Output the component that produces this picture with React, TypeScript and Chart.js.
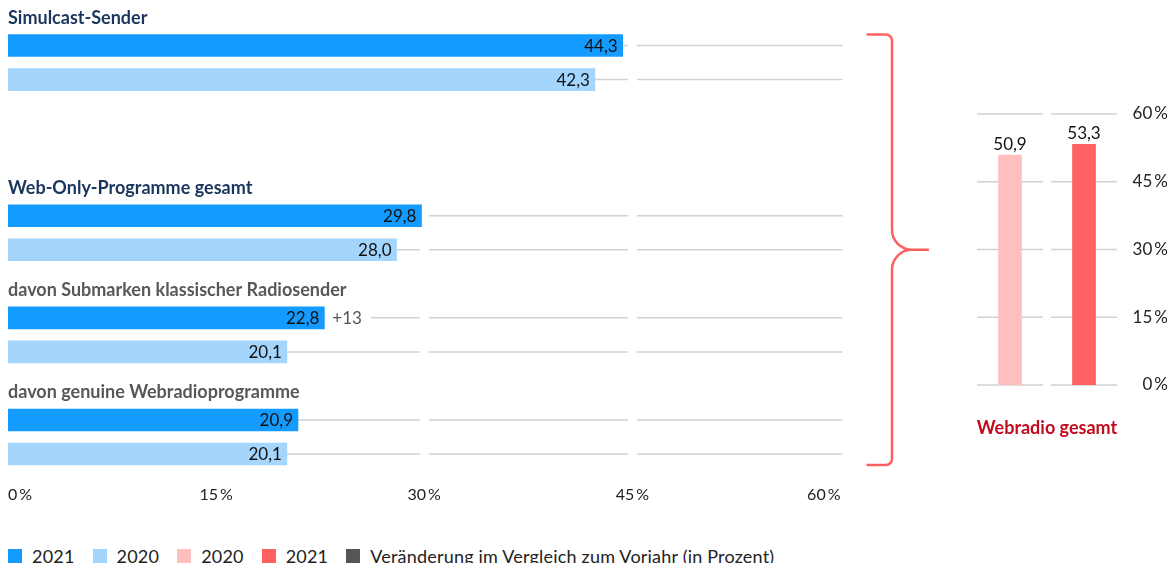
import React, { useEffect, useRef } from "react";
import { Chart, registerables } from "chart.js";
Chart.register(...registerables);

// ---- data ----
const groups = [
  "Simulcast-Sender",
  "Web-Only-Programme gesamt",
  "davon Submarken klassischer Radiosender",
  "davon genuine Webradioprogramme",
];
const values2021 = [44.3, 29.8, 22.8, 20.9];
const values2020 = [42.3, 28.0, 20.1, 20.1];
const changes2021: (number | null)[] = [null, null, 13, null];
const xTickValues = [0, 15, 30, 45, 60];

const webradioYears = ["2020", "2021"];
const webradioValues = [50.9, 53.3];
const webradioTitle = "Webradio gesamt";
const yTickValues = [0, 15, 30, 45, 60];

const legendLabels = ["2021", "2020", "2020", "2021", "Veränderung im Vergleich zum Vorjahr (in Prozent)"];

// ---- styles ----
const FONT = 'Lato, "Open Sans", sans-serif';
const C2021 = "#149bff";
const C2020 = "#a3d5fd";
const R2020 = "#ffbfbf";
const R2021 = "#ff6163";
const GRID = "#d2d2d2";
const legendColors = [C2021, C2020, R2020, R2021, "#555555"];
const titleColors = ["#1b365d", "#1b365d", "#58585a", "#58585a"];

type Slot = { kind: "title" | "bar" | "blank"; g: number; year?: "2021" | "2020" };
const slots: Slot[] = [];
groups.forEach((_, i) => {
  slots.push({ kind: "title", g: i });
  slots.push({ kind: "bar", g: i, year: "2021" });
  slots.push({ kind: "bar", g: i, year: "2020" });
  if (i === 0) {
    slots.push({ kind: "blank", g: i });
    slots.push({ kind: "blank", g: i });
  }
});
const slotValues = slots.map((s) =>
  s.kind === "bar" ? (s.year === "2021" ? values2021[s.g] : values2020[s.g]) : null
);
const slotColors = slots.map((s) => (s.year === "2021" ? C2021 : C2020));

const fmt = (v: number) => v.toFixed(1).replace(".", ",");

const leftPlugin = {
  id: "leftDecor",
  beforeDatasetsDraw(chart: any) {
    const { ctx, scales } = chart;
    const x = scales.x;
    const y = scales.y;
    ctx.save();
    ctx.strokeStyle = GRID;
    ctx.lineWidth = 1.5;
    slots.forEach((s, i) => {
      if (s.kind !== "bar") return;
      const py = y.getPixelForValue(i);
      for (let k = 0; k < xTickValues.length - 1; k++) {
        const a = x.getPixelForValue(xTickValues[k]) + (k === 0 ? 0 : 4.5);
        const last = k + 1 === xTickValues.length - 1;
        const b = x.getPixelForValue(xTickValues[k + 1]) + (last ? 2 : -4.5);
        ctx.beginPath();
        ctx.moveTo(a, py);
        ctx.lineTo(b, py);
        ctx.stroke();
      }
    });
    ctx.restore();
  },
  afterDatasetsDraw(chart: any) {
    const { ctx, scales, chartArea } = chart;
    const y = scales.y;
    const meta = chart.getDatasetMeta(0);
    ctx.save();
    // group titles
    slots.forEach((s, i) => {
      if (s.kind !== "title") return;
      ctx.font = `bold 18px ${FONT}`;
      ctx.fillStyle = titleColors[s.g];
      ctx.textAlign = "left";
      ctx.textBaseline = "middle";
      ctx.fillText(groups[s.g], chartArea.left, y.getPixelForValue(i) + 6.5);
    });
    // value labels
    slots.forEach((s, i) => {
      if (s.kind !== "bar") return;
      const el = meta.data[i];
      const v = slotValues[i] as number;
      ctx.font = `17px ${FONT}`;
      ctx.fillStyle = "#111";
      ctx.textAlign = "right";
      ctx.textBaseline = "middle";
      ctx.fillText(fmt(v), el.x - 5, el.y + 1);
      const ch = s.year === "2021" ? changes2021[s.g] : null;
      if (ch != null) {
        const txt = (ch > 0 ? "+" : "") + ch;
        ctx.font = `17px ${FONT}`;
        const w = ctx.measureText(txt).width;
        ctx.fillStyle = "#fff";
        ctx.fillRect(el.x + 1, el.y - 4, w + 16, 8);
        ctx.fillStyle = "#555";
        ctx.textAlign = "left";
        ctx.fillText(txt, el.x + 8, el.y + 1);
      }
    });
    // brace
    const firstBar = slots.findIndex((s) => s.kind === "bar");
    const lastBar = slots.length - 1;
    const top = meta.data[firstBar].y - 11;
    const bot = meta.data[lastBar].y + 11;
    const mid = (top + bot) / 2;
    const right = chartArea.right;
    const xs = right + 26;
    const xv = right + 51.5;
    const xt = right + 88.5;
    const r1 = 6;
    const r2 = 20;
    ctx.strokeStyle = "#ff6163";
    ctx.lineWidth = 2.5;
    ctx.lineCap = "butt";
    ctx.beginPath();
    ctx.moveTo(xs, top);
    ctx.lineTo(xv - r1, top);
    ctx.arcTo(xv, top, xv, top + r1, r1);
    ctx.lineTo(xv, mid - r2);
    ctx.arcTo(xv, mid, xv + r2, mid, r2);
    ctx.lineTo(xt, mid);
    ctx.moveTo(xv + r2, mid);
    ctx.arcTo(xv, mid, xv, mid + r2, r2);
    ctx.lineTo(xv, bot - r1);
    ctx.arcTo(xv, bot, xv - r1, bot, r1);
    ctx.lineTo(xs, bot);
    ctx.stroke();
    ctx.restore();
  },
};

const rightPlugin = {
  id: "rightDecor",
  beforeDatasetsDraw(chart: any) {
    const { ctx, scales } = chart;
    const x = scales.x;
    const y = scales.y;
    ctx.save();
    ctx.strokeStyle = GRID;
    ctx.lineWidth = 1.5;
    webradioYears.forEach((_, i) => {
      const cx = x.getPixelForValue(i);
      yTickValues.forEach((t) => {
        const py = y.getPixelForValue(t);
        ctx.beginPath();
        ctx.moveTo(cx - 33, py);
        ctx.lineTo(cx + 33, py);
        ctx.stroke();
      });
    });
    ctx.restore();
  },
  afterDatasetsDraw(chart: any) {
    const { ctx, chartArea } = chart;
    const meta = chart.getDatasetMeta(0);
    ctx.save();
    ctx.font = `17px ${FONT}`;
    ctx.fillStyle = "#111";
    ctx.textAlign = "center";
    ctx.textBaseline = "bottom";
    webradioValues.forEach((v, i) => {
      const el = meta.data[i];
      ctx.fillText(fmt(v), el.x, el.y - 2);
    });
    ctx.font = `bold 18px ${FONT}`;
    ctx.fillStyle = "#c00d1e";
    ctx.textBaseline = "middle";
    ctx.fillText(webradioTitle, (chartArea.left + chartArea.right) / 2, chartArea.bottom + 43);
    ctx.restore();
  },
};

export default function App() {
  const leftRef = useRef<HTMLCanvasElement>(null);
  const rightRef = useRef<HTMLCanvasElement>(null);

  useEffect(() => {
    const left = new Chart(leftRef.current!, {
      type: "bar",
      data: {
        labels: slots.map((_, i) => String(i)),
        datasets: [
          {
            data: slotValues as any,
            backgroundColor: slotColors,
            barThickness: 22,
            borderWidth: 0,
            clip: false as any,
          },
        ],
      },
      options: {
        indexAxis: "y",
        responsive: false,
        animation: false,
        layout: { padding: { left: 0, right: 93.5, top: 3.5, bottom: 4 } },
        plugins: { legend: { display: false }, tooltip: { enabled: false } },
        scales: {
          y: { type: "category", offset: false, display: false },
          x: {
            type: "linear",
            min: 0,
            max: 60,
            grid: { display: false, drawTicks: true, tickLength: 31 },
            border: { display: false },
            afterBuildTicks: (s: any) => {
              s.ticks = xTickValues.map((v) => ({ value: v }));
            },
            afterFit: (s: any) => {
              s.height = 50;
            },
            ticks: {
              align: "inner",
              padding: 0,
              color: "#222",
              font: { family: FONT, size: 16 },
              callback: (v: any) => `${v}\u2009%`,
            },
          },
        },
      },
      plugins: [leftPlugin],
    } as any);

    const right = new Chart(rightRef.current!, {
      type: "bar",
      data: {
        labels: webradioYears,
        datasets: [
          {
            data: webradioValues,
            backgroundColor: [R2020, R2021],
            barThickness: 23,
            borderWidth: 0,
          },
        ],
      },
      options: {
        responsive: false,
        animation: false,
        layout: { padding: { left: 39, right: 2, top: 106, bottom: 63 } },
        plugins: { legend: { display: false }, tooltip: { enabled: false } },
        scales: {
          x: { display: false },
          y: {
            position: "right",
            min: 0,
            max: 60,
            grid: { display: false, drawTicks: false },
            border: { display: false },
            afterBuildTicks: (s: any) => {
              s.ticks = yTickValues.map((v) => ({ value: v }));
            },
            afterFit: (s: any) => {
              s.width = 47;
            },
            ticks: {
              crossAlign: "far",
              padding: 10,
              color: "#222",
              font: { family: FONT, size: 17 },
              callback: (v: any) => `${v}\u2009%`,
            },
          },
        },
      },
      plugins: [rightPlugin],
    } as any);

    return () => {
      left.destroy();
      right.destroy();
    };
  }, []);

  return (
    <div style={{ position: "relative", width: 1159, height: 555, fontFamily: FONT }}>
      <canvas
        ref={leftRef}
        width={926}
        height={500}
        style={{ position: "absolute", left: 0, top: 0, width: 926, height: 500 }}
      />
      <canvas
        ref={rightRef}
        width={236}
        height={440}
        style={{ position: "absolute", left: 926, top: 0, width: 236, height: 440 }}
      />
      <div
        style={{
          position: "absolute",
          left: 0,
          top: 538,
          height: 20,
          display: "flex",
          alignItems: "center",
          fontSize: 18,
          letterSpacing: 0.2,
          color: "#222",
          whiteSpace: "nowrap",
        }}
      >
        {legendLabels.map((l, i) => (
          <div key={i} style={{ display: "flex", alignItems: "center", marginRight: 18 }}>
            <span style={{ display: "inline-block", width: 14, height: 14, background: legendColors[i], marginRight: 10 }} />
            <span>{l}</span>
          </div>
        ))}
      </div>
    </div>
  );
}
